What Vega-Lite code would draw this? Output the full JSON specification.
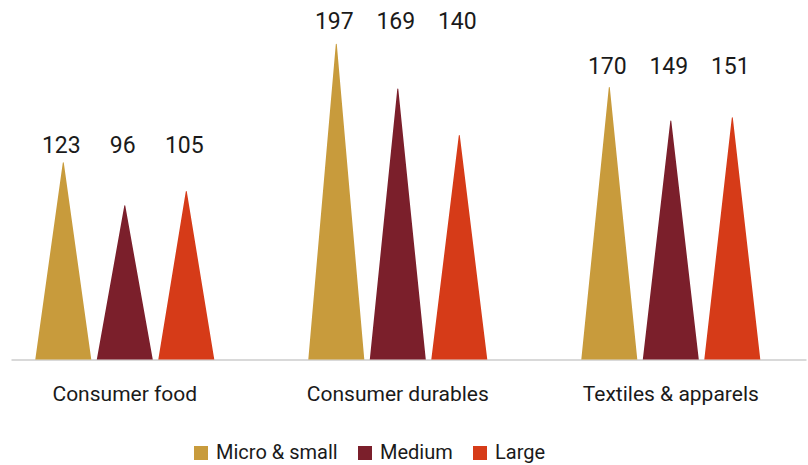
{
  "$schema": "https://vega.github.io/schema/vega-lite/v6.json",
  "width": 795,
  "height": 349.5,
  "autosize": {"type": "none"},
  "padding": {"left": 11, "top": 10, "right": 2, "bottom": 105.5},
  "background": "white",
  "config": {"view": {"stroke": null}, "font": "Roboto"},
  "data": {"values": [
    {"cat": "Consumer food", "group": "Micro & small", "value": 123, "zero": 0},
    {"cat": "Consumer food", "group": "Medium", "value": 96, "zero": 0},
    {"cat": "Consumer food", "group": "Large", "value": 105, "zero": 0},
    {"cat": "Consumer durables", "group": "Micro & small", "value": 197, "zero": 0},
    {"cat": "Consumer durables", "group": "Medium", "value": 169, "zero": 0},
    {"cat": "Consumer durables", "group": "Large", "value": 140, "zero": 0},
    {"cat": "Textiles & apparels", "group": "Micro & small", "value": 170, "zero": 0},
    {"cat": "Textiles & apparels", "group": "Medium", "value": 149, "zero": 0},
    {"cat": "Textiles & apparels", "group": "Large", "value": 151, "zero": 0}
  ]},
  "encoding": {
    "x": {
      "field": "cat", "type": "nominal", "sort": null,
      "scale": {"paddingInner": 0.3242, "paddingOuter": 0.1181, "align": 0.334},
      "axis": {"title": null, "ticks": false, "tickSize": 0, "labelPadding": 24, "labelAngle": 0,
               "labelFontSize": 21, "labelColor": "#1a1a1a", "labelFont": "Roboto", "labelLimit": 400,
               "domainColor": "#d9d9d9", "domainWidth": 2, "grid": false}
    },
    "xOffset": {"field": "group", "type": "nominal", "sort": ["Micro & small", "Medium", "Large"],
                "scale": {"padding": 0.5}},
    "color": {
      "field": "group", "type": "nominal",
      "scale": {"domain": ["Micro & small", "Medium", "Large"], "range": ["#C89B3C", "#7B1F2B", "#D63B18"]},
      "legend": {"title": null, "orient": "none", "direction": "horizontal", "legendX": 180, "legendY": 433,
                 "symbolType": "square", "symbolSize": 196, "symbolOpacity": 1, "symbolStrokeWidth": 0,
                 "labelFontSize": 20, "labelFont": "Roboto", "labelColor": "#1a1a1a", "labelOffset": 5,
                 "columnPadding": 17, "padding": 0,
                 "encode": {"symbols": {"update": {"fill": {"scale": "color", "field": "value"}, "fillOpacity": {"value": 1}}}}}
    }
  },
  "layer": [
    {
      "transform": [{"fold": ["zero", "value"], "as": ["key", "v"]}],
      "mark": {"type": "trail", "clip": true},
      "encoding": {
        "y": {"field": "v", "type": "quantitative", "scale": {"domain": [0, 218.4], "nice": false, "zero": true}, "axis": null},
        "size": {"field": "key", "type": "ordinal", "scale": {"type": "point", "domain": ["zero", "value"], "range": [56, 0], "padding": 0}, "legend": null},
        "detail": {"field": "cat", "type": "nominal"},
        "order": {"field": "key", "type": "nominal"}
      }
    },
    {
      "transform": [{"joinaggregate": [{"op": "max", "field": "value", "as": "catmax"}], "groupby": ["cat"]}],
      "mark": {"type": "text", "baseline": "alphabetic", "align": "center", "fontSize": 23, "font": "Roboto", "color": "#1a1a1a", "dx": -2, "dy": -1},
      "encoding": {
        "y": {"field": "catmax", "type": "quantitative", "scale": {"domain": [0, 208.7], "nice": false}, "axis": null},
        "text": {"field": "value", "type": "quantitative"},
        "color": {"value": "#1a1a1a"}
      }
    }
  ],
  "resolve": {"scale": {"y": "independent"}}
}
